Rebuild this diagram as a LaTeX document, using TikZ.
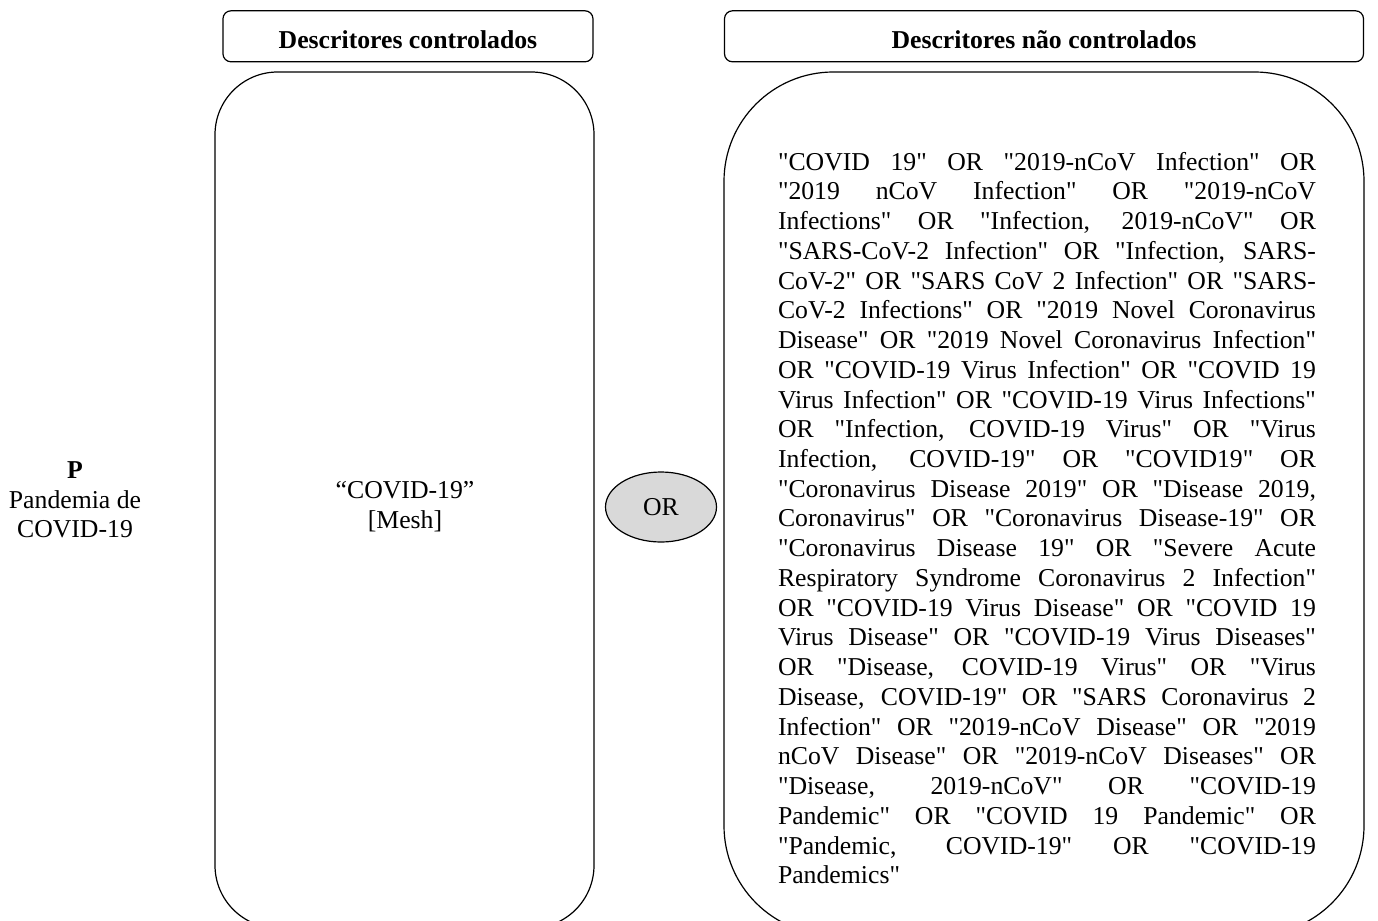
\documentclass[tikz,border=0pt]{standalone}
\usepackage{fontspec}
\setmainfont[Ligatures=TeXOff]{Liberation Serif}
\usetikzlibrary{positioning,shapes.geometric}
\definecolor{orgray}{HTML}{D9D9D9}

\begin{document}
\begin{tikzpicture}[
  x=0.75pt, y=-0.75pt,
  node distance=6.75pt,
  line width=0.9pt,
  every node/.style={font=\fontsize{19.3}{22.3}\selectfont, inner sep=0pt},
  header/.style={draw, rounded corners=6pt, minimum height=38.25pt,
    text height=19pt, text depth=0pt,
    font=\fontsize{19.3}{22.3}\selectfont\bfseries},
  panel/.style={draw, rounded corners=#1},
  joiner/.style={draw, ellipse, fill=orgray, minimum width=83.25pt, minimum height=52.5pt},
  terms/.style={text width=403.5pt, align=justify},
]
\useasboundingbox (0,0) rectangle (1378,921);
\clip (0,0) rectangle (1378,921);

% --- Panels ----------------------------------------------------
\node[panel=47pt, minimum width=284.25pt, minimum height=642pt] (lpanel) at (404.5,500) {};
\node[panel=82pt, minimum width=480pt, minimum height=647.25pt] (rpanel) at (1044,503.5) {};

% --- Headers ---------------------------------------------------
\node[header, minimum width=277.5pt, above=of lpanel, xshift=2.6pt] (lhead) {Descritores controlados};
\node[header, minimum width=479.25pt, above=of rpanel] (rhead) {Descritores não controlados};

% --- Contents --------------------------------------------------
\node[align=center] (pop) at (75,500) {\textbf{P}\\Pandemia de\\COVID-19};
\node[align=center] (mesh) at (405,507) {“COVID-19”\\{}[Mesh]};
\node[joiner] (or) at (661,507) {OR};
\node[terms] (free) at (1047,518) {\tolerance=10000\hyphenpenalty=10000
"COVID 19" OR "2019-nCoV Infection" OR\linebreak
"2019 nCoV Infection" OR "2019-nCoV\linebreak
Infections" OR "Infection, 2019-nCoV" OR\linebreak
"SARS-CoV-2 Infection" OR "Infection, SARS-\linebreak
CoV-2" OR "SARS CoV 2 Infection" OR "SARS-\linebreak
CoV-2 Infections" OR "2019 Novel Coronavirus\linebreak
Disease" OR "2019 Novel Coronavirus Infection"\linebreak
OR "COVID-19 Virus Infection" OR "COVID 19\linebreak
Virus Infection" OR "COVID-19 Virus Infections"\linebreak
OR "Infection, COVID-19 Virus" OR "Virus\linebreak
Infection, COVID-19" OR "COVID19" OR\linebreak
"Coronavirus Disease 2019" OR "Disease 2019,\linebreak
Coronavirus" OR "Coronavirus Disease-19" OR\linebreak
"Coronavirus Disease 19" OR "Severe Acute\linebreak
Respiratory Syndrome Coronavirus 2 Infection"\linebreak
OR "COVID-19 Virus Disease" OR "COVID 19\linebreak
Virus Disease" OR "COVID-19 Virus Diseases"\linebreak
OR "Disease, COVID-19 Virus" OR "Virus\linebreak
Disease, COVID-19" OR "SARS Coronavirus 2\linebreak
Infection" OR "2019-nCoV Disease" OR "2019\linebreak
nCoV Disease" OR "2019-nCoV Diseases" OR\linebreak
"Disease, 2019-nCoV" OR "COVID-19\linebreak
Pandemic" OR "COVID 19 Pandemic" OR\linebreak
"Pandemic, COVID-19" OR "COVID-19\linebreak
Pandemics"};

\end{tikzpicture}
\end{document}
